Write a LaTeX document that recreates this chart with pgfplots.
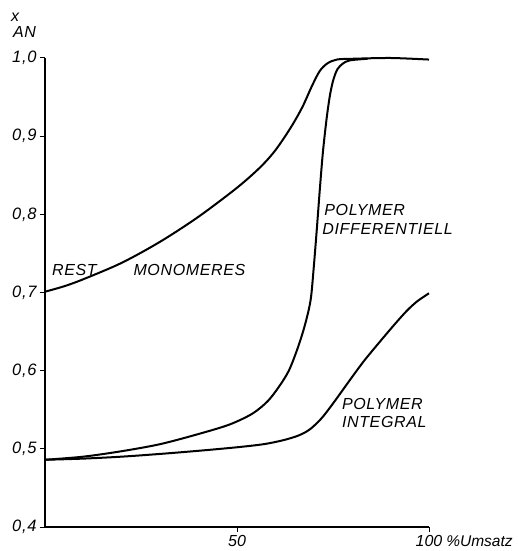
\documentclass[border=0pt]{standalone}
\usepackage{pgfplots}
\pgfplotsset{compat=1.18}
\usepackage{fontspec}
\setmainfont{Liberation Sans}
\newfontfamily\lblfont[LetterSpace=4]{Liberation Sans}
\begin{document}
\begin{tikzpicture}[x=1pt,y=1pt]
\useasboundingbox (-45,-24) rectangle (472,527);
\begin{axis}[at={(0,0)}, anchor=south west, scale only axis,
  width=384pt, height=469pt,
  xmin=0, xmax=100, ymin=0.4, ymax=1.0,
  axis x line=bottom, axis y line=left,
  axis line style={-, line width=1.1pt},
  xtick={50,100},
  xticklabels={50,{100\rlap{\hspace{4pt}\fontsize{15.5}{15.5}\selectfont\%Umsatz}}},
  ytick={0.4,0.5,0.6,0.7,0.8,0.9,1.0},
  yticklabels={{0,4},{0,5},{0,6},{0,7},{0,8},{0,9},{1,0}},
  yticklabel style={font=\lblfont\fontsize{16.5}{16.5}\selectfont\itshape},
  xticklabel style={font=\fontsize{16}{16}\selectfont\itshape},
  tick align=outside, major tick length=5pt,
  tick style={line width=1pt, black},
  clip=false,
]
\addplot[black, line width=2pt, smooth, tension=0.5] coordinates {
(0,0.701) (5,0.708) (10,0.717) (20,0.738) (30,0.765) (40,0.797) (50,0.834)
(56,0.860) (60,0.882) (64,0.911) (67,0.937) (69.5,0.964) (71.5,0.983)
(73.5,0.993) (76,0.998) (80,0.999) (90,1.0) (100,0.998)};
\addplot[black, line width=2pt, smooth, tension=0.5] coordinates {
(0,0.486) (10,0.490) (20,0.497) (30,0.506) (40,0.519) (48,0.531) (54,0.545)
(58,0.561) (61,0.580) (63.5,0.600) (65.6,0.626) (67.2,0.650) (68.5,0.674)
(69.3,0.695) (70,0.733) (70.8,0.782) (71.6,0.834) (72.4,0.881) (73.4,0.925)
(74.3,0.955) (75.2,0.974) (76.2,0.986) (77.6,0.993) (79.4,0.997) (84,0.999)};
\addplot[black, line width=2pt, smooth, tension=0.5] coordinates {
(0,0.486) (10,0.4875) (20,0.490) (30,0.4935) (40,0.4975) (50,0.502) (57,0.506)
(62,0.511) (66,0.517) (69,0.525) (72,0.539) (75,0.558) (79.4,0.588) (83,0.612)
(87.2,0.637) (91,0.659) (94.3,0.677) (97,0.689) (100,0.699)};
\tikzset{lbl/.style={anchor=west, inner sep=0pt, font=\lblfont\fontsize{16}{16}\selectfont\itshape}}
\node[lbl] at (axis cs:1.8,0.729) {REST};
\node[lbl] at (axis cs:23,0.729) {MONOMERES};
\node[lbl] at (axis cs:72.7,0.806) {POLYMER};
\node[lbl] at (axis cs:72.2,0.781) {DIFFERENTIELL};
\node[lbl] at (axis cs:77.3,0.558) {POLYMER};
\node[lbl] at (axis cs:77.3,0.534) {INTEGRAL};
\node[lbl, anchor=west] at (rel axis cs:0,1) [xshift=-32pt, yshift=26pt] {AN};
\node[lbl, anchor=west] at (rel axis cs:0,1) [xshift=-34pt, yshift=41pt] {x};
\end{axis}
\end{tikzpicture}
\end{document}
